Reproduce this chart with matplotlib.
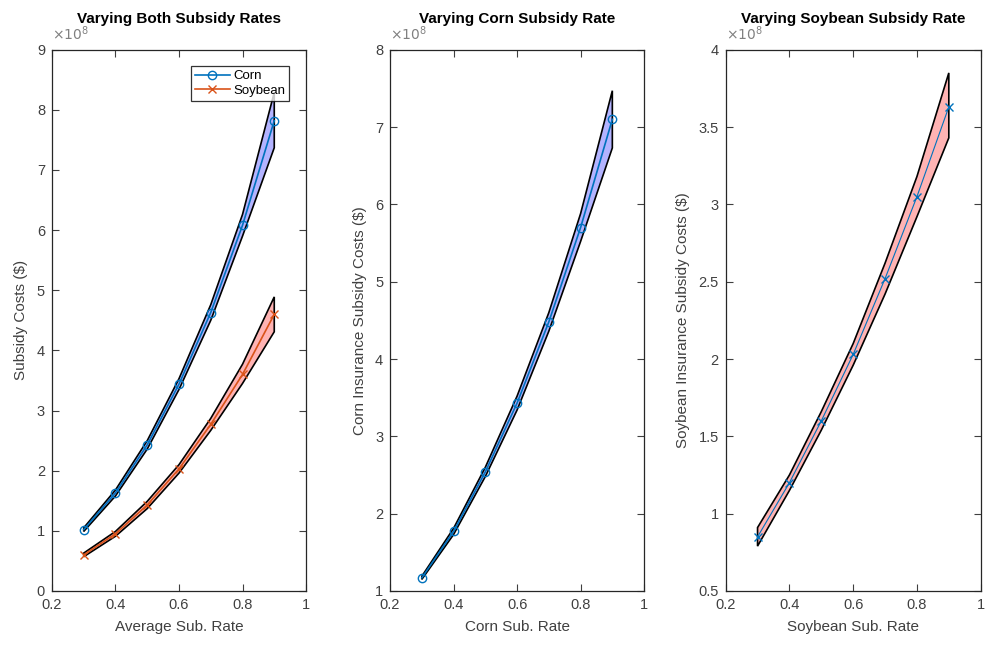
import numpy as np
import matplotlib.pyplot as plt
from matplotlib.ticker import FuncFormatter, MultipleLocator

plt.rcParams['font.family'] = ['Liberation Sans', 'DejaVu Sans']

# Tasas de subsidio evaluadas
tasas = [0.3, 0.4, 0.5, 0.6, 0.7, 0.8, 0.9]

# Ambas tasas variando a la vez
maiz_ambas = [1.02e8, 1.63e8, 2.43e8, 3.44e8, 4.63e8, 6.08e8, 7.82e8]
maiz_ambas_sup = [1.05e8, 1.68e8, 2.50e8, 3.53e8, 4.76e8, 6.26e8, 8.29e8]
maiz_ambas_inf = [0.99e8, 1.58e8, 2.36e8, 3.35e8, 4.50e8, 5.90e8, 7.37e8]
soja_ambas = [0.60e8, 0.95e8, 1.43e8, 2.03e8, 2.77e8, 3.60e8, 4.60e8]
soja_ambas_sup = [0.63e8, 0.99e8, 1.49e8, 2.10e8, 2.87e8, 3.77e8, 4.89e8]
soja_ambas_inf = [0.57e8, 0.91e8, 1.37e8, 1.96e8, 2.67e8, 3.45e8, 4.31e8]

# Solo la tasa del maiz
maiz_sola = [1.17e8, 1.77e8, 2.54e8, 3.43e8, 4.48e8, 5.70e8, 7.10e8]
maiz_sola_sup = [1.19e8, 1.81e8, 2.60e8, 3.52e8, 4.60e8, 5.88e8, 7.47e8]
maiz_sola_inf = [1.15e8, 1.73e8, 2.48e8, 3.34e8, 4.36e8, 5.52e8, 6.73e8]

# Solo la tasa de la soja
soja_sola = [0.85e8, 1.20e8, 1.60e8, 2.03e8, 2.52e8, 3.05e8, 3.63e8]
soja_sola_sup = [0.91e8, 1.25e8, 1.66e8, 2.10e8, 2.62e8, 3.18e8, 3.85e8]
soja_sola_inf = [0.79e8, 1.15e8, 1.54e8, 1.96e8, 2.42e8, 2.92e8, 3.43e8]

azul = '#0072BD'
naranja = '#D95319'
gris = '#404040'


def banda(ax, x, sup, inf, color):
    xs = np.concatenate([x, x[::-1]])
    ys = np.concatenate([sup, inf[::-1]])
    ax.fill(xs, ys, facecolor=color, edgecolor='k', linewidth=1.2)


def estilo(ax, ymin, ymax, paso, titulo, xlabel, ylabel):
    ax.set_xlim(0.2, 1.0)
    ax.set_ylim(ymin, ymax)
    ax.xaxis.set_major_locator(MultipleLocator(0.2))
    ax.yaxis.set_major_locator(MultipleLocator(paso))
    ax.xaxis.set_major_formatter(FuncFormatter(lambda v, p: f'{v:g}'))
    ax.yaxis.set_major_formatter(FuncFormatter(lambda v, p: f'{v / 1e8:g}'))
    ax.tick_params(direction='in', top=True, right=True, length=5,
                   width=0.8, labelsize=10.5, colors=gris, pad=5)
    for s in ax.spines.values():
        s.set_linewidth(0.9)
        s.set_color('#262626')
    ax.set_title(titulo, fontsize=11, fontweight='bold', pad=19)
    ax.set_xlabel(xlabel, fontsize=11, color=gris, labelpad=6)
    ax.set_ylabel(ylabel, fontsize=11, color=gris, labelpad=6)
    ax.text(0.0, 1.012, r'$\times10^{8}$', transform=ax.transAxes,
            fontsize=10, color='#808080', ha='left', va='bottom')


fig = plt.figure(figsize=(9.9, 6.49), dpi=100)
ax1 = fig.add_axes([0.0525, 0.0894, 0.2566, 0.834])
ax2 = fig.add_axes([0.394, 0.0894, 0.2566, 0.834])
ax3 = fig.add_axes([0.733, 0.0894, 0.2576, 0.834])

x = np.array(tasas)

banda(ax1, x, np.array(maiz_ambas_sup), np.array(maiz_ambas_inf), '#b3b3ff')
banda(ax1, x, np.array(soja_ambas_sup), np.array(soja_ambas_inf), '#ffb3b3')
ax1.plot(x, maiz_ambas, '-o', color=azul, lw=1.2, ms=6, mfc='none', label='Corn')
ax1.plot(x, soja_ambas, '-x', color=naranja, lw=1.2, ms=6, label='Soybean')
estilo(ax1, 0, 9e8, 1e8, 'Varying Both Subsidy Rates', 'Average Sub. Rate',
       'Subsidy Costs ($)')
leg = ax1.legend(loc='upper right', bbox_to_anchor=(0.935, 0.97), fontsize=9.5,
                 frameon=True, fancybox=False, borderpad=0.3, labelspacing=0.2,
                 handlelength=2.6, handletextpad=0.3, borderaxespad=0)
leg.get_frame().set_edgecolor('k')
leg.get_frame().set_linewidth(0.9)

banda(ax2, x, np.array(maiz_sola_sup), np.array(maiz_sola_inf), '#b3b3ff')
ax2.plot(x, maiz_sola, '-o', color=azul, lw=1.2, ms=6, mfc='none')
estilo(ax2, 1e8, 8e8, 1e8, 'Varying Corn Subsidy Rate', 'Corn Sub. Rate',
       'Corn Insurance Subsidy Costs ($)')

banda(ax3, x, np.array(soja_sola_sup), np.array(soja_sola_inf), '#ffb3b3')
ax3.plot(x, soja_sola, '-x', color=azul, lw=0.8, ms=6)
estilo(ax3, 0.5e8, 4e8, 0.5e8, 'Varying Soybean Subsidy Rate', 'Soybean Sub. Rate',
       'Soybean Insurance Subsidy Costs ($)')

fig.savefig('out.png', dpi=100)
